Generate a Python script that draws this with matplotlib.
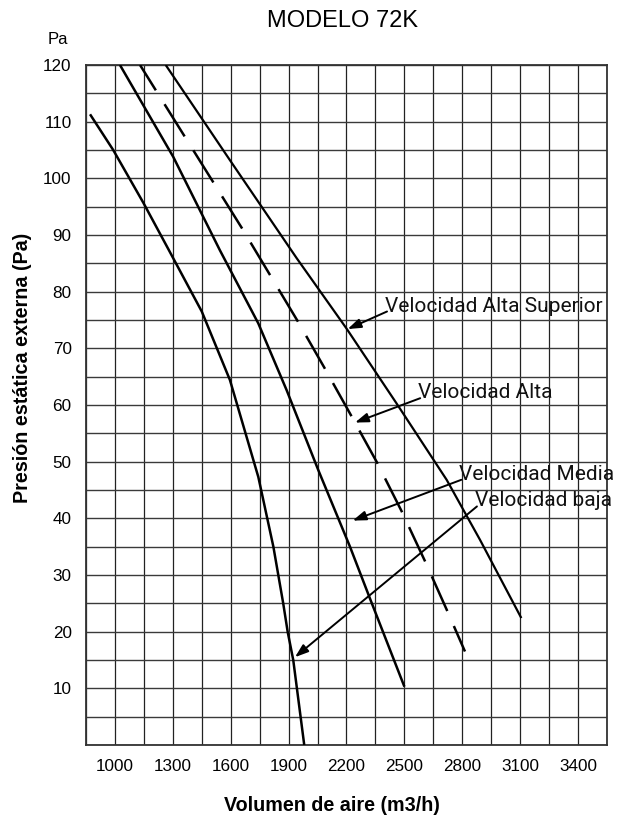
import matplotlib
matplotlib.use("Agg")
import matplotlib.pyplot as plt
import numpy as np

# ---- data ----
baja_x = [871, 991, 1147, 1280, 1450, 1596, 1743, 1821, 1872, 1895, 1924, 1981]
baja_y = [111.3, 105, 95.7, 87.3, 76.5, 64.4, 47.3, 35, 25, 20, 15, 0]

media_x = [1026, 1302, 1544, 1743, 1890, 2054, 2218, 2321, 2500]
media_y = [120, 103.8, 87.3, 74.4, 62.6, 48.5, 35, 25.9, 10.3]

alta_x = [1130, 1363, 1660, 1947, 2085, 2223, 2359, 2485, 2606, 2719, 2814]
alta_y = [120, 107.3, 91.1, 74.8, 66.6, 58.2, 49.8, 41.3, 32.5, 23.9, 16.5]

sup_x = [1263, 1596, 1942, 2200, 2459, 2719, 2892, 3106]
sup_y = [120, 103.2, 85.9, 73.5, 60.3, 46.8, 36.2, 22.4]

x_ticks = [1000, 1300, 1600, 1900, 2200, 2500, 2800, 3100, 3400]
y_ticks = [10, 20, 30, 40, 50, 60, 70, 80, 90, 100, 110, 120]

labels = ["Velocidad Alta Superior", "Velocidad Alta", "Velocidad Media", "Velocidad baja"]
label_xy = [(2400, 76.5), (2572, 61.2), (2785, 46.8), (2866, 42.1)]
arrow_tip = [(2206, 73.4), (2244, 56.9), (2232, 39.6), (1933, 15.5)]

# ---- figure ----
plt.rcParams['lines.scale_dashes'] = False
fig = plt.figure(figsize=(6.19, 8.18), dpi=100)
ax = fig.add_axes([86/619, 1-745/818, 521/619, 680/818])
ax.set_xlim(850, 3550)
ax.set_ylim(0, 120)

for gx in np.arange(850, 3551, 150):
    ax.axvline(gx, color='#222222', lw=0.9, zorder=1)
for gy in np.arange(0, 121, 5):
    ax.axhline(gy, color='#3a3a3a', lw=1.0, zorder=1)

for s in ax.spines.values():
    s.set_color('#333333')
    s.set_linewidth(1.3)

lw = 1.8
ax.plot(baja_x, baja_y, color='black', lw=lw, zorder=3, solid_capstyle='butt')
ax.plot(media_x, media_y, color='black', lw=lw, zorder=3, solid_capstyle='butt')
ax.plot(alta_x, alta_y, color='black', lw=lw, zorder=3,
        linestyle=(5.8, (27.3, 11.8)), dash_capstyle='butt')
ax.plot(sup_x, sup_y, color='black', lw=1.6, zorder=3, solid_capstyle='butt')

ax.set_xticks(x_ticks)
ax.set_yticks(y_ticks)
ax.set_xticklabels([str(v) for v in x_ticks], fontsize=12.3, family='Liberation Sans')
ax.set_yticklabels([str(v) for v in y_ticks], fontsize=12.3, family='Liberation Sans')
ax.tick_params(axis='both', length=0)
ax.tick_params(axis='x', pad=10)
ax.tick_params(axis='y', pad=10.3)

for txt, (tx, ty), (hx, hy) in zip(labels, label_xy, arrow_tip):
    ax.text(tx, ty, txt, ha='left', va='baseline', fontsize=15, family='Roboto',
            color='#111111', zorder=5)
    ax.annotate('', xy=(hx, hy), xytext=(tx + 10, ty),
                arrowprops=dict(arrowstyle='-|>,head_length=0.8,head_width=0.28',
                                color='black', lw=1.4, shrinkA=0, shrinkB=0),
                zorder=5)

fig.text(342.5/619, 1-21/818, 'MODELO 72K', ha='center', va='center',
         fontsize=17, family='Liberation Sans')
fig.text(58/619, 1-39/818, 'Pa', ha='center', va='center',
         fontsize=12, family='Liberation Sans')
fig.text(22.5/619, 1-367.5/818, 'Presión estática externa (Pa)', ha='center', va='center',
         rotation=90, fontsize=14.2, fontweight='bold', family='Liberation Sans')
fig.text(331.5/619, 1-805.5/818, 'Volumen de aire (m3/h)', ha='center', va='center',
         fontsize=14.2, fontweight='bold', family='Liberation Sans')

fig.savefig('out.png', dpi=100)
